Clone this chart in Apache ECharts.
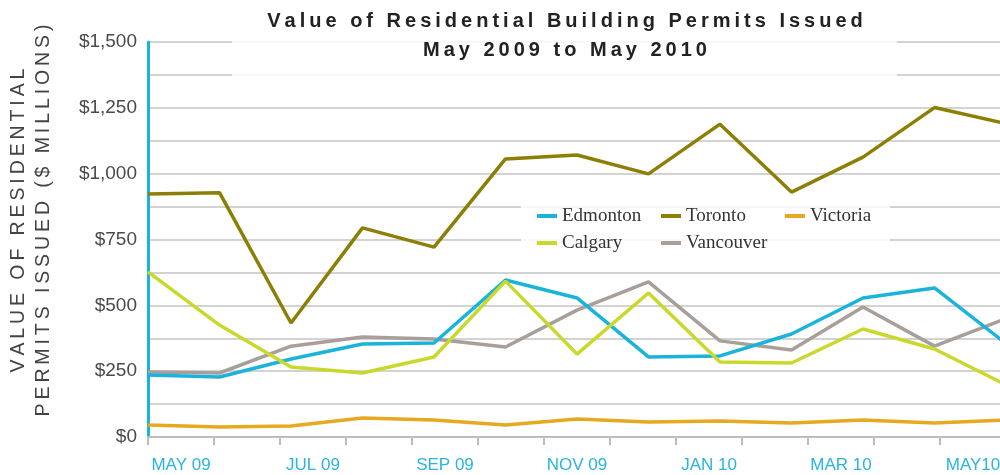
<!DOCTYPE html>
<html>
<head>
<meta charset="utf-8">
<script src="https://cdn.jsdelivr.net/npm/echarts@6/dist/echarts.min.js"></script>
<style>
  html, body { margin: 0; padding: 0; background: #fff; }
  #myChart1 { width: 1000px; height: 475px; }
</style>
</head>
<body>
<div id="myChart1"></div>
<script>
// months along the bottom
const months = ['MAY 09', 'JUN 09', 'JUL 09', 'AUG 09', 'SEP 09', 'OCT 09', 'NOV 09',
  'DEC 09', 'JAN 10', 'FEB 10', 'MAR 10', 'APR 10', 'MAY10']

// value of permits, $ millions
const edmonton = [235, 228, 296, 353, 357, 596, 528, 304, 308, 391, 528, 566, 355]
const toronto = [923, 928, 433, 794, 721, 1056, 1071, 999, 1188, 930, 1063, 1251, 1190]
const victoria = [46, 38, 42, 72, 65, 46, 68, 57, 61, 53, 65, 53, 65]
const calgary = [627, 425, 266, 243, 304, 592, 315, 547, 285, 281, 410, 334, 198]
const vancouver = [247, 243, 345, 380, 372, 342, 482, 589, 365, 330, 494, 345, 450]

const legendNames = ['Edmonton', 'Toronto', 'Victoria', 'Calgary', 'Vancouver']

// letter spacing by thin spaces
function spaced(s) {
  return s.split('').join('\u2009')
}

const myChart = echarts.init(document.getElementById('myChart1'))

function line(name, data, color) {
  return {
    name: name,
    type: 'line',
    xAxisIndex: 1,
    data: data,
    showSymbol: false,
    symbol: 'none',
    lineStyle: { width: 3.5, color: color },
    itemStyle: { color: color },
    z: 3
  }
}

myChart.setOption({
  animation: false,
  title: {
    text: spaced('Value of Residential Building Permits Issued') + '\n' + spaced('May 2009 to May 2010'),
    left: 565,
    top: 7,
    textAlign: 'center',
    padding: 0,
    textStyle: {
      fontFamily: 'Liberation Sans',
      fontSize: 20,
      fontWeight: 'bold',
      color: '#222',
      lineHeight: 29
    }
  },
  graphic: [
    {
      type: 'rect', z: 1, silent: true,
      shape: { x: 232, y: 28, width: 665, height: 52 },
      style: { fill: 'rgba(255,255,255,0.85)' }
    },
    {
      type: 'rect', z: 1, silent: true,
      shape: { x: 521, y: 196, width: 369, height: 60 },
      style: { fill: 'rgba(255,255,255,0.85)' }
    }
  ],
  legend: {
    data: legendNames,
    left: 537,
    top: 206,
    width: 370,
    padding: 0,
    icon: 'rect',
    itemWidth: 20,
    itemHeight: 4,
    itemGap: 7,
    textStyle: {
      fontFamily: 'Liberation Serif',
      fontSize: 19,
      color: '#333',
      width: 92,
      overflow: 'truncate',
      lineHeight: 20
    }
  },
  grid: {
    left: 148,
    right: -6,
    top: 42,
    bottom: 38,
    outerBoundsMode: 'none'
  },
  xAxis: [
    {
      type: 'category',
      data: months,
      boundaryGap: true,
      axisLine: { lineStyle: { color: '#bdbdbd', width: 2 } },
      axisTick: { show: true, interval: 0, length: 8, lineStyle: { color: '#bdbdbd', width: 2 } },
      axisLabel: {
        interval: 1,
        margin: 20,
        color: '#2bb4de',
        fontFamily: 'Liberation Sans',
        fontSize: 17
      },
      splitLine: { show: false }
    },
    {
      type: 'category',
      data: months,
      boundaryGap: false,
      show: false
    }
  ],
  yAxis: {
    type: 'value',
    min: 0,
    max: 1500,
    interval: 125,
    name: spaced('VALUE OF RESIDENTIAL') + '\n' + spaced('PERMITS ISSUED ($ MILLIONS)'),
    nameLocation: 'middle',
    nameGap: 92,
    nameTextStyle: {
      fontFamily: 'Liberation Sans',
      fontSize: 19.5,
      color: '#444',
      lineHeight: 25,
      padding: [0, 0, 0, 38]
    },
    axisLine: { show: true, lineStyle: { color: '#1ab3dc', width: 3 } },
    axisTick: { show: false },
    axisLabel: {
      margin: 11,
      color: '#4a4a4a',
      fontFamily: 'Liberation Sans',
      fontSize: 19,
      formatter: function (v) {
        if (v % 250 !== 0) return ''
        return '$' + v.toLocaleString('en-US')
      }
    },
    splitLine: { lineStyle: { color: '#c4c4c4', width: 1.5 } }
  },
  series: [
    line('Vancouver', vancouver, '#a89e9a'),
    line('Edmonton', edmonton, '#1ab3dc'),
    line('Calgary', calgary, '#c9d92c'),
    line('Toronto', toronto, '#8c7f06'),
    line('Victoria', victoria, '#e6a920')
  ]
})
</script>
</body>
</html>
